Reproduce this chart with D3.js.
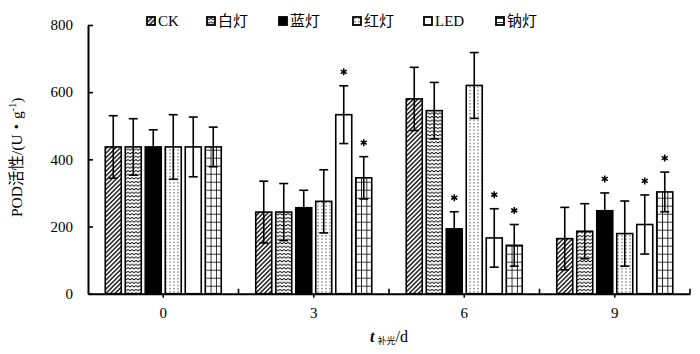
<!DOCTYPE html>
<html>
<head>
<meta charset="utf-8">
<script src="https://cdn.jsdelivr.net/npm/d3@7/dist/d3.min.js"></script>
<style>
  body { margin: 0; background: #fff; }
  svg { display: block; }
  text { font-family: "Liberation Serif", "Noto Sans CJK SC", serif; fill: #000; }
</style>
</head>
<body>
<div id="chart"></div>
<script>
// data
const days = ["0", "3", "6", "9"];
const lights = ["CK", "白灯", "蓝灯", "红灯", "LED", "钠灯"];
const podMean = [
  [437, 243, 580, 164],   // CK
  [437, 243, 545, 186],   // 白灯
  [437, 256, 193, 247],   // 蓝灯
  [437, 275, 620, 179],   // 红灯
  [437, 533, 166, 206],   // LED
  [437, 345, 144, 303]    // 钠灯
];
const podErr = [
  [93, 92, 94, 93],
  [84, 85, 84, 82],
  [51, 52, 51, 53],
  [96, 94, 98, 97],
  [89, 86, 87, 88],
  [59, 63, 62, 59]
];
const signif = [
  [0, 0, 0, 0],
  [0, 0, 0, 0],
  [0, 0, 1, 1],
  [0, 0, 0, 0],
  [0, 1, 1, 1],
  [0, 1, 1, 1]
];
const yTicks = [0, 200, 400, 600, 800];

const width = 700, height = 354;
const margin = {top: 25, right: 10, bottom: 60, left: 88};
const legendX = [147, 207, 279, 353, 424, 496];

const svg = d3.select("#chart").append("svg")
  .attr("width", width)
  .attr("height", height);

const x0 = d3.scaleBand()
  .domain(days)
  .range([margin.left, 690])
  .padding(0);

const x1 = d3.scaleBand()
  .domain(lights)
  .range([-60, 60])
  .paddingInner(0.2)
  .paddingOuter(0.1);

const y = d3.scaleLinear()
  .domain([0, 800])
  .range([height - margin.bottom - 0.3, margin.top]);

const fillKey = ["ck", "white", "blue", "red", "led", "na"];

// patterns
const defs = svg.append("defs");

const pCk = defs.append("pattern")
  .attr("id", "p-ck")
  .attr("patternUnits", "userSpaceOnUse")
  .attr("width", 3.2).attr("height", 3.2)
  .attr("patternTransform", "rotate(45)");
pCk.append("rect").attr("width", 3.2).attr("height", 3.2).attr("fill", "#fff");
pCk.append("line").attr("x1", 0.8).attr("y1", 0).attr("x2", 0.8).attr("y2", 3.2)
  .attr("stroke", "#000").attr("stroke-width", 1.3);

const pWhite = defs.append("pattern")
  .attr("id", "p-white")
  .attr("patternUnits", "userSpaceOnUse")
  .attr("width", 4).attr("height", 3.6);
pWhite.append("rect").attr("width", 4).attr("height", 3.6).attr("fill", "#fff");
pWhite.append("path").attr("d", "M0,1.2 L2,2.6 L4,1.2")
  .attr("fill", "none").attr("stroke", "#000").attr("stroke-width", 1);

const pRed = defs.append("pattern")
  .attr("id", "p-red")
  .attr("patternUnits", "userSpaceOnUse")
  .attr("width", 4).attr("height", 3.3);
pRed.append("rect").attr("width", 4).attr("height", 3.3).attr("fill", "#fff");
pRed.append("rect").attr("x", 1.5).attr("y", 1).attr("width", 1).attr("height", 1).attr("fill", "#000");

// grid pattern for 钠灯, one per day so the grid lines up with each bar
days.forEach((d, i) => {
  const bx = x0(d) + x0.bandwidth() / 2 + x1("钠灯");
  const w = x1.bandwidth() / 3;
  const p = defs.append("pattern")
    .attr("id", "p-na-" + i)
    .attr("patternUnits", "userSpaceOnUse")
    .attr("x", bx).attr("y", y(0))
    .attr("width", w).attr("height", 8);
  p.append("rect").attr("width", w).attr("height", 8).attr("fill", "#fff");
  p.append("path").attr("d", `M0,0 V8 M0,0 H${w}`)
    .attr("stroke", "#000").attr("stroke-width", 1.6).attr("fill", "none");
});

const legendPattern = defs.append("pattern")
  .attr("id", "p-na-leg")
  .attr("patternUnits", "userSpaceOnUse")
  .attr("x", legendX[5]).attr("y", 17)
  .attr("width", 8).attr("height", 4);
legendPattern.append("rect").attr("width", 8).attr("height", 4).attr("fill", "#fff");
legendPattern.append("line").attr("x1", 0).attr("x2", 8).attr("y1", 0).attr("y2", 0)
  .attr("stroke", "#000").attr("stroke-width", 1.6);

function fillFor(s, gi) {
  const k = fillKey[s];
  if (k === "blue") return "#000";
  if (k === "led") return "#fff";
  if (k === "na") return gi === undefined ? "url(#p-na-leg)" : `url(#p-na-${gi})`;
  return `url(#p-${k})`;
}

// bars
const rows = [];
lights.forEach((name, s) => {
  days.forEach((d, g) => {
    rows.push({s, g, name, day: d, mean: podMean[s][g], err: podErr[s][g], star: signif[s][g]});
  });
});

const cx = r => x0(r.day) + x0.bandwidth() / 2 + x1(r.name);

svg.append("g").selectAll("rect")
  .data(rows)
  .join("rect")
  .attr("x", r => cx(r))
  .attr("y", r => y(r.mean))
  .attr("width", x1.bandwidth())
  .attr("height", r => y(0) - y(r.mean))
  .attr("fill", r => fillFor(r.s, r.g))
  .attr("stroke", "#000")
  .attr("stroke-width", 1.6);

// error bars
const eb = svg.append("g").attr("stroke", "#000").attr("stroke-width", 1.6);
rows.forEach(r => {
  const mx = cx(r) + x1.bandwidth() / 2;
  eb.append("line").attr("x1", mx).attr("x2", mx)
    .attr("y1", y(r.mean - r.err)).attr("y2", y(r.mean + r.err));
  [r.mean - r.err, r.mean + r.err].forEach(v => {
    eb.append("line").attr("x1", mx - 4.5).attr("x2", mx + 4.5)
      .attr("y1", y(v)).attr("y2", y(v));
  });
});

// significance marks
const star = d3.symbol(d3.symbolAsterisk, 34);
svg.append("g").selectAll("path")
  .data(rows.filter(r => r.star))
  .join("path")
  .attr("transform", r => `translate(${cx(r) + x1.bandwidth() / 2},${y(r.mean + r.err) - 14})`)
  .attr("d", star)
  .attr("fill", "none")
  .attr("stroke", "#000")
  .attr("stroke-width", 1.5);

// y axis
const yAxis = svg.append("g")
  .attr("transform", `translate(${margin.left},0)`)
  .call(d3.axisRight(y).tickValues(yTicks).tickSize(5).tickSizeOuter(0).tickFormat(""));
yAxis.select(".domain").attr("stroke-width", 2);
yAxis.selectAll(".tick line").attr("stroke-width", 1.6);

svg.append("g").selectAll("text")
  .data(yTicks)
  .join("text")
  .attr("x", 73)
  .attr("y", d => y(d))
  .attr("dy", "0.35em")
  .attr("text-anchor", "end")
  .attr("font-size", 15)
  .text(d => d);

// x axis
const xAxis = svg.append("g")
  .attr("transform", `translate(0,${y(0)})`)
  .call(d3.axisBottom(x0).tickSize(4).tickSizeOuter(0).tickPadding(10));
xAxis.select(".domain").attr("stroke-width", 2);
xAxis.selectAll(".tick line").attr("stroke-width", 1.6);
xAxis.selectAll(".tick text")
  .attr("font-size", 15)
  .attr("font-family", "Liberation Serif");

// boundary ticks between days
const bounds = days.slice(1).map(d => x0(d)).concat([x0.range()[1]]);
svg.append("g").selectAll("line")
  .data(bounds)
  .join("line")
  .attr("x1", d => d).attr("x2", d => d)
  .attr("y1", y(0)).attr("y2", y(0) - 5)
  .attr("stroke", "#000").attr("stroke-width", 1.6);

// axis titles
svg.append("text")
  .attr("transform", `translate(22,${(y(0) + y(800)) / 2 - 2}) rotate(-90)`)
  .attr("text-anchor", "middle")
  .attr("font-size", 15.5)
  .call(t => {
    t.append("tspan").text("POD活性/(U・g");
    t.append("tspan").attr("font-size", 10).attr("dy", -6).text("-1");
    t.append("tspan").attr("dy", 6).text(")");
  });

svg.append("text")
  .attr("x", (x0.range()[0] + x0.range()[1]) / 2)
  .attr("y", 342)
  .attr("text-anchor", "middle")
  .attr("font-size", 16)
  .call(t => {
    t.append("tspan").attr("font-style", "italic").attr("font-weight", "bold").text("t");
    t.append("tspan").attr("font-size", 9).attr("dx", 3).attr("dy", 2).text("补光");
    t.append("tspan").attr("dy", -2).text("/d");
  });

// legend
const legend = svg.append("g");
lights.forEach((name, s) => {
  const g = legend.append("g").attr("transform", `translate(${legendX[s]},17)`);
  g.append("rect")
    .attr("width", 8).attr("height", 8)
    .attr("fill", fillFor(s))
    .attr("stroke", "#000").attr("stroke-width", 1.8);
  g.append("text")
    .attr("x", 11).attr("y", 4)
    .attr("dy", "0.35em")
    .attr("font-size", 15)
    .text(name);
});
</script>
</body>
</html>
